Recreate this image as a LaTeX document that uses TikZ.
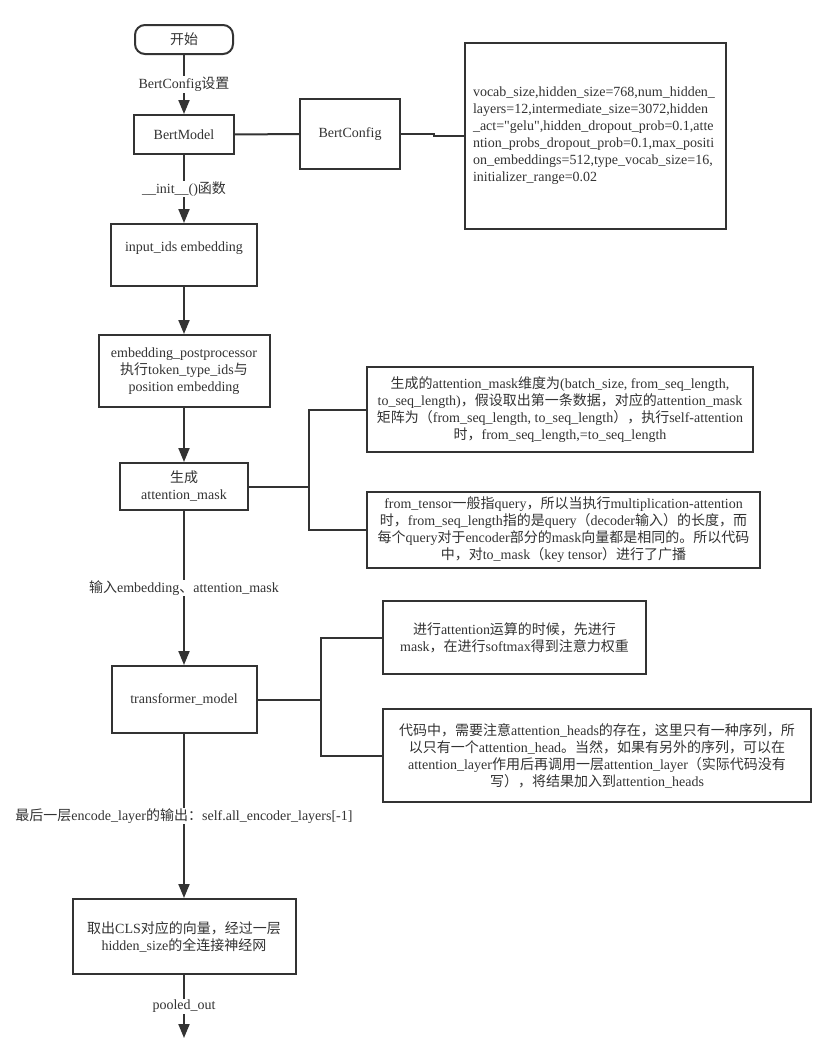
\documentclass[tikz,border=0pt]{standalone}
\usepackage{fontspec}
\setmainfont{Liberation Serif}[Ligatures=TeXOff]
\newfontfamily\cjkf{Noto Sans CJK SC}
\newfontfamily\latf{Liberation Serif}[Ligatures=TeXOff]
\usetikzlibrary{arrows.meta}
\XeTeXinterchartokenstate=1
\newXeTeXintercharclass\cjkcls
\newcount\cjkcnt
\def\setcjkrange#1#2{\cjkcnt=#1\relax\loop\XeTeXcharclass\cjkcnt=\cjkcls\advance\cjkcnt by 1\relax\ifnum\cjkcnt<#2\relax\repeat}
\setcjkrange{"4E00}{"A000}
\setcjkrange{"3000}{"3040}
\setcjkrange{"FF00}{"FFF0}
\XeTeXinterchartoks 0 \cjkcls = {\cjkf}
\XeTeXinterchartoks 4095 \cjkcls = {\cjkf}
\XeTeXinterchartoks \cjkcls 0 = {\latf}
\XeTeXinterchartoks \cjkcls 4095 = {\latf}
\definecolor{ink}{HTML}{333333}
\tikzset{
  box/.style={draw=ink, line width=2pt, inner sep=0pt, align=center, text=ink},
  lbl/.style={fill=white, inner sep=1pt, text=ink},
  conn/.style={draw=ink, line width=2pt},
  arr/.style={conn, -{Triangle[length=14pt,width=11pt]}},
}
\begin{document}
\begin{tikzpicture}[x=1pt,y=-1pt, font=\fontsize{14}{17}\selectfont]
\path[use as bounding box, fill=white] (0,0) rectangle (836,1060);
% main column
\node[box, rounded corners=10pt, minimum width=98pt, minimum height=29pt] (start) at (184,39.5) {开始};
\node[box, minimum width=100pt, minimum height=39pt] (bm) at (184,134.5) {BertModel};
\node[box, minimum width=100pt, minimum height=70pt] (bc) at (350,134) {BertConfig};
\node[box, minimum width=261pt, minimum height=186pt, text width=245pt, align=left] (cfg) at (595.5,136) {vocab\_size,hidden\_size=768,num\_hidden\_\\layers=12,intermediate\_size=3072,hidden\\\_act="gelu",hidden\_dropout\_prob=0.1,atte\\ntion\_probs\_dropout\_prob=0.1,max\_positi\\on\_embeddings=512,type\_vocab\_size=16,\\initializer\_range=0.02};
\node[box, minimum width=146pt, minimum height=62pt] (inp) at (184,255) {input\_ids embedding\\\mbox{}};
\node[box, minimum width=171pt, minimum height=72pt] (emb) at (184,371) {embedding\_postprocessor\\执行token\_type\_ids与\\position embedding};
\node[box, minimum width=128pt, minimum height=47pt] (gen) at (184,486.5) {生成\\attention\_mask};
\node[box, minimum width=386pt, minimum height=85pt] (n1) at (560,409.5) {生成的attention\_mask维度为(batch\_size, from\_seq\_length,\\to\_seq\_length)，假设取出第一条数据，对应的attention\_mask\\矩阵为（from\_seq\_length, to\_seq\_length），执行self-attention\\时，from\_seq\_length,=to\_seq\_length};
\node[box, minimum width=393pt, minimum height=76pt] (n2) at (563.5,530) {from\_tensor一般指query，所以当执行multiplication-attention\\时，from\_seq\_length指的是query（decoder输入）的长度，而\\每个query对于encoder部分的mask向量都是相同的。所以代码\\中，对to\_mask（key tensor）进行了广播};
\node[box, minimum width=145pt, minimum height=67pt] (tm) at (184,699.5) {transformer\_model};
\node[box, minimum width=263pt, minimum height=73pt] (n3) at (514.5,637.5) {进行attention运算的时候，先进行\\mask，在进行softmax得到注意力权重};
\node[box, minimum width=428pt, minimum height=93pt] (n4) at (597,755.5) {代码中，需要注意attention\_heads的存在，这里只有一种序列，所\\以只有一个attention\_head。当然，如果有另外的序列，可以在\\attention\_layer作用后再调用一层attention\_layer（实际代码没有\\写），将结果加入到attention\_heads};
\node[box, minimum width=223pt, minimum height=75pt] (cls) at (184,936.5) {取出CLS对应的向量，经过一层\\hidden\_size的全连接神经网};
\coordinate (end) at (184,1038);
% connectors
\draw[arr] (start) -- (bm) node[lbl, pos=0.5] {BertConfig设置};
\draw[conn] (bm) -- (bc);
\draw[conn] (bc.east) -- ++(33,0) |- (cfg.west);
\draw[arr] (bm) -- (inp) node[lbl, pos=0.5] {\_\_init\_\_()函数};
\draw[arr] (inp) -- (emb);
\draw[arr] (emb) -- (gen);
\draw[conn] (gen.east) -- ++(60,0) |- (n1.west);
\draw[conn] (gen.east) -- ++(60,0) |- (n2.west);
\draw[arr] (gen) -- (tm) node[lbl, pos=0.5] {输入embedding、attention\_mask};
\draw[conn] (tm.east) -- ++(63,0) |- (n3.west);
\draw[conn] (tm.east) -- ++(63,0) |- (n4.west);
\draw[arr] (tm) -- (cls) node[lbl, pos=0.5] {最后一层encode\_layer的输出：self.all\_encoder\_layers[-1]};
\draw[arr] (cls) -- (end) node[lbl, pos=0.5] {pooled\_out};
\end{tikzpicture}
\end{document}
